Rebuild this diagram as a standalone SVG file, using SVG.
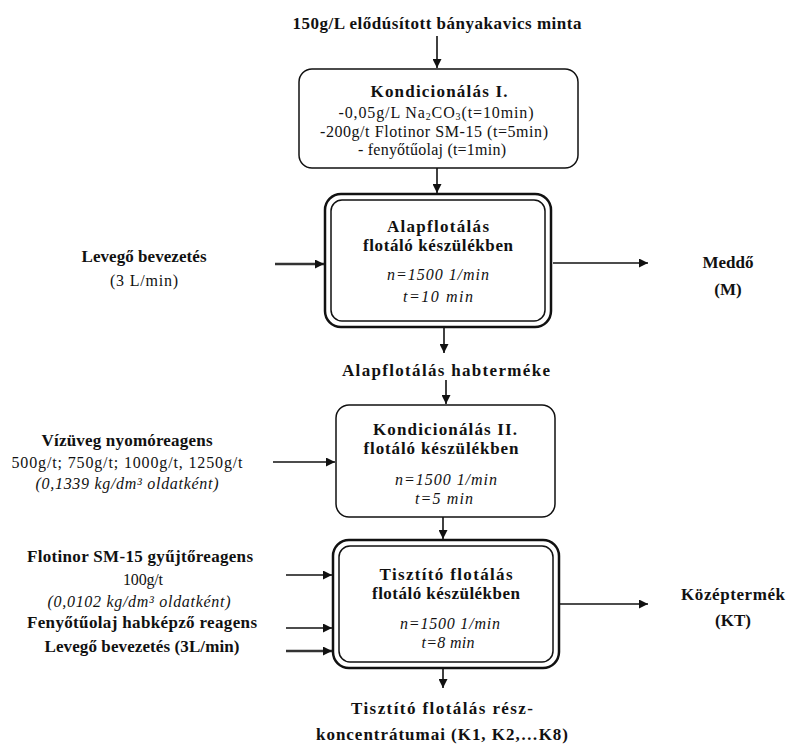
<svg xmlns="http://www.w3.org/2000/svg" width="809" height="745" viewBox="0 0 809 745">
<style>
text{font-family:"Liberation Serif","Times New Roman",serif;fill:#111;text-anchor:middle}
.b{font-weight:bold;font-size:17px}
.r{font-size:16px}
.i{font-style:italic;font-size:16px}
.box{fill:#fff;stroke:#111;stroke-width:1.5}
.outer{fill:#fff;stroke:#111;stroke-width:2.5}
.inner{fill:none;stroke:#111;stroke-width:1.5}
.c{stroke:#111;stroke-width:1.6;fill:none;marker-end:url(#ah)}
.cg{stroke:#333;stroke-width:2.4;fill:none;marker-end:url(#ah)}
</style>
<defs>
<marker id="ah" viewBox="0 0 10 10" refX="10" refY="5" markerWidth="9" markerHeight="9" markerUnits="userSpaceOnUse" orient="auto">
<path d="M0,0 L10,5 L0,10 z" fill="#111"/>
</marker>
</defs>
<rect width="809" height="745" fill="#fff"/>

<g id="connectors">
<line class="c" x1="437" y1="36" x2="437" y2="68"/>
<line class="c" x1="437" y1="168" x2="437" y2="193"/>
<line class="cg" x1="275" y1="264" x2="324" y2="264"/>
<line class="c" x1="553" y1="263" x2="648" y2="263"/>
<line class="c" x1="444" y1="327" x2="444" y2="353"/>
<line class="c" x1="446" y1="380" x2="446" y2="404"/>
<line class="c" x1="273" y1="462" x2="335" y2="462"/>
<line class="c" x1="443" y1="517" x2="443" y2="539"/>
<line class="c" x1="286" y1="575" x2="332" y2="575"/>
<line class="c" x1="286" y1="628" x2="332" y2="628"/>
<line class="cg" x1="286" y1="651" x2="332" y2="651"/>
<line class="c" x1="559" y1="604" x2="648" y2="604"/>
<line class="c" x1="443" y1="668" x2="443" y2="688"/>
</g>

<g id="input">
<text class="b" x="437" y="29" textLength="289" lengthAdjust="spacing">150g/L elődúsított bányakavics minta</text>
</g>

<g id="kondicionalas1">
<rect class="box" x="299" y="69" width="279" height="99" rx="13"/>
<text class="b" x="439" y="97" textLength="137" lengthAdjust="spacing">Kondicionálás I.</text>
<text class="r" x="436" y="118" textLength="195" lengthAdjust="spacing">-0,05g/L Na<tspan font-size="10" dy="2">2</tspan><tspan dy="-2">CO</tspan><tspan font-size="10" dy="2">3</tspan><tspan dy="-2">(t=10min)</tspan></text>
<text class="r" x="434" y="137" textLength="228" lengthAdjust="spacing">-200g/t Flotinor SM-15 (t=5min)</text>
<text class="r" x="432" y="155" textLength="148" lengthAdjust="spacing">- fenyőtűolaj (t=1min)</text>
</g>

<g id="alapflotalas">
<rect class="outer" x="325" y="194" width="226" height="133" rx="16"/>
<rect class="inner" x="331" y="200" width="214" height="121" rx="11"/>
<text class="b" x="438" y="232" textLength="102" lengthAdjust="spacing">Alapflotálás</text>
<text class="b" x="438" y="251" textLength="150" lengthAdjust="spacing">flotáló készülékben</text>
<text class="i" x="438" y="280" textLength="102" lengthAdjust="spacing">n=1500 1/min</text>
<text class="i" x="438" y="302" textLength="70" lengthAdjust="spacing">t=10 min</text>
</g>

<g id="levego1">
<text class="b" x="144" y="262" textLength="125" lengthAdjust="spacing">Levegő bevezetés</text>
<text class="r" x="144" y="286" textLength="68" lengthAdjust="spacing">(3 L/min)</text>
</g>

<g id="meddo">
<text class="b" x="728" y="268" font-size="16">Meddő</text>
<text class="b" x="728" y="295" font-size="16">(M)</text>
</g>

<g id="habtermek">
<text class="b" x="446" y="376" textLength="208" lengthAdjust="spacing">Alapflotálás habterméke</text>
</g>

<g id="kondicionalas2">
<rect class="box" x="336" y="405" width="219" height="112" rx="13"/>
<text class="b" x="445" y="435" textLength="144" lengthAdjust="spacing">Kondicionálás II.</text>
<text class="b" x="441" y="454" textLength="155" lengthAdjust="spacing">flotáló készülékben</text>
<text class="i" x="446" y="485" textLength="102" lengthAdjust="spacing">n=1500 1/min</text>
<text class="i" x="444" y="504" textLength="58" lengthAdjust="spacing">t=5 min</text>
</g>

<g id="vizuveg">
<text class="b" x="127" y="446" textLength="171" lengthAdjust="spacing">Vízüveg nyomóreagens</text>
<text class="r" x="127" y="468" textLength="231" lengthAdjust="spacing">500g/t; 750g/t; 1000g/t, 1250g/t</text>
<text class="i" x="127" y="489" textLength="183" lengthAdjust="spacing">(0,1339 kg/dm³ oldatként)</text>
</g>

<g id="tisztito">
<rect class="outer" x="333" y="540" width="226" height="128" rx="16"/>
<rect class="inner" x="339" y="546" width="214" height="116" rx="11"/>
<text class="b" x="446" y="580" textLength="133" lengthAdjust="spacing">Tisztító flotálás</text>
<text class="b" x="446" y="599" textLength="148" lengthAdjust="spacing">flotáló készülékben</text>
<text class="i" x="450" y="629" textLength="100" lengthAdjust="spacing">n=1500 1/min</text>
<text class="i" x="448" y="648" textLength="53" lengthAdjust="spacing">t=8 min</text>
</g>

<g id="reagensek">
<text class="b" x="140" y="562" textLength="226" lengthAdjust="spacing">Flotinor SM-15 gyűjtőreagens</text>
<text class="r" x="143" y="585" textLength="40" lengthAdjust="spacing">100g/t</text>
<text class="i" x="139" y="607" textLength="183" lengthAdjust="spacing">(0,0102 kg/dm³ oldatként)</text>
<text class="b" x="142" y="628" textLength="230" lengthAdjust="spacing">Fenyőtűolaj habképző reagens</text>
<text class="b" x="142" y="652" textLength="195" lengthAdjust="spacing">Levegő bevezetés  (3L/min)</text>
</g>

<g id="kozeptermek">
<text class="b" x="733" y="600" textLength="104" lengthAdjust="spacing">Középtermék</text>
<text class="b" x="733" y="626" font-size="16">(KT)</text>
</g>

<g id="koncentratum">
<text class="b" x="442" y="714" textLength="182" lengthAdjust="spacing">Tisztító flotálás rész-</text>
<text class="b" x="442" y="740" textLength="252" lengthAdjust="spacing">koncentrátumai (K1, K2,…K8)</text>
</g>
</svg>
